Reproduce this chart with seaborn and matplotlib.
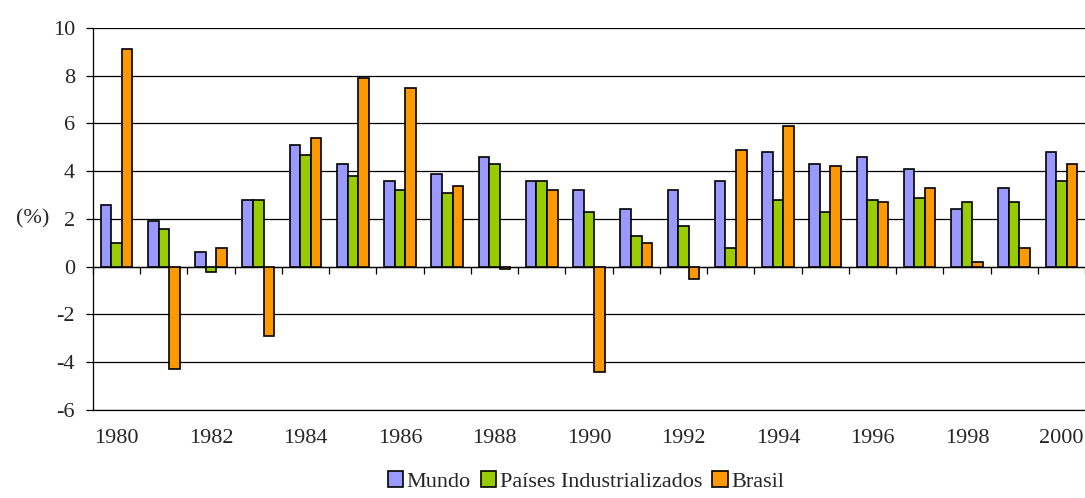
#!/usr/bin/env python3

import pandas as pd
import seaborn as sns
import matplotlib.pyplot as plt

# ---- Data (taxa de crescimento do PIB, %) ----
years = list(range(1980, 2001))
series_names = ["Mundo", "Países Industrializados", "Brasil"]
mundo = [2.6, 1.9, 0.6, 2.8, 5.1, 4.3, 3.6, 3.9, 4.6, 3.6, 3.2,
         2.4, 3.2, 3.6, 4.8, 4.3, 4.6, 4.1, 2.4, 3.3, 4.8]
industrializados = [1.0, 1.6, -0.2, 2.8, 4.7, 3.8, 3.2, 3.1, 4.3, 3.6, 2.3,
                    1.3, 1.7, 0.8, 2.8, 2.3, 2.8, 2.9, 2.7, 2.7, 3.6]
brasil = [9.1, -4.3, 0.8, -2.9, 5.4, 7.9, 7.5, 3.4, -0.1, 3.2, -4.4,
          1.0, -0.5, 4.9, 5.9, 4.2, 2.7, 3.3, 0.2, 0.8, 4.3]
year_labels = [str(y) if y % 2 == 0 else "" for y in years]
colors = ["#9999FF", "#99CC00", "#FF9900"]


def main():
    df = pd.DataFrame({
        "ano": years * 3,
        "valor": mundo + industrializados + brasil,
        "serie": [s for s in series_names for _ in years],
    })

    sns.set_theme(style="white")
    plt.rcParams["font.family"] = ["Liberation Serif", "DejaVu Serif"]
    plt.rcParams["axes.unicode_minus"] = False

    fig = plt.figure(figsize=(10.85, 4.98), dpi=100)
    ax = fig.add_axes([0.0857, 0.1767, 0.9143, 0.7671])

    sns.barplot(
        data=df, x="ano", y="valor", hue="serie", hue_order=series_names,
        palette=colors, width=0.67, edgecolor="black", linewidth=1.2,
        saturation=1, ax=ax,
    )
    handles, labels = ax.get_legend_handles_labels()
    ax.get_legend().remove()

    ax.set_xlim(-0.5, len(years) - 0.5)
    ax.set_ylim(-6, 10)
    ax.set_yticks(range(-6, 11, 2))
    ax.set_axisbelow(True)
    ax.yaxis.grid(True, color="black", linewidth=0.9)
    ax.xaxis.grid(False)

    for side in ["top", "right"]:
        ax.spines[side].set_visible(False)
    for side in ["left", "bottom"]:
        ax.spines[side].set_color("black")
        ax.spines[side].set_linewidth(0.9)

    ax.tick_params(axis="y", left=True, direction="out", length=5, width=0.9,
                   color="black", labelsize=16, pad=8)
    ax.set_xticks(range(len(years)))
    ax.set_xticklabels(year_labels)
    ax.tick_params(axis="x", bottom=True, length=0, labelsize=16, pad=14)

    ax.set_xlabel("")
    ax.set_ylabel("(%)", rotation=0, fontsize=16, ha="center", va="center")
    ax.yaxis.set_label_coords(-0.061, 0.50)

    # zero line with category separators
    sec = ax.secondary_xaxis(6 / 16)
    sec.set_alignment("bottom")
    sec.set_xticks([i - 0.5 for i in range(len(years) + 1)])
    sec.tick_params(axis="x", direction="out", length=5, width=0.9,
                    color="black", labelbottom=False, labeltop=False)
    for sp in sec.spines.values():
        sp.set_color("black")
        sp.set_linewidth(0.9)

    fig.legend(
        handles, labels, loc="lower center", bbox_to_anchor=(0.54, -0.028),
        ncol=3, frameon=False, fontsize=16, handlelength=0.7,
        handleheight=0.7, handletextpad=0.15, columnspacing=0.45,
    )

    plt.savefig("out.png", dpi=100)
    plt.close()


if __name__ == "__main__":
    main()
